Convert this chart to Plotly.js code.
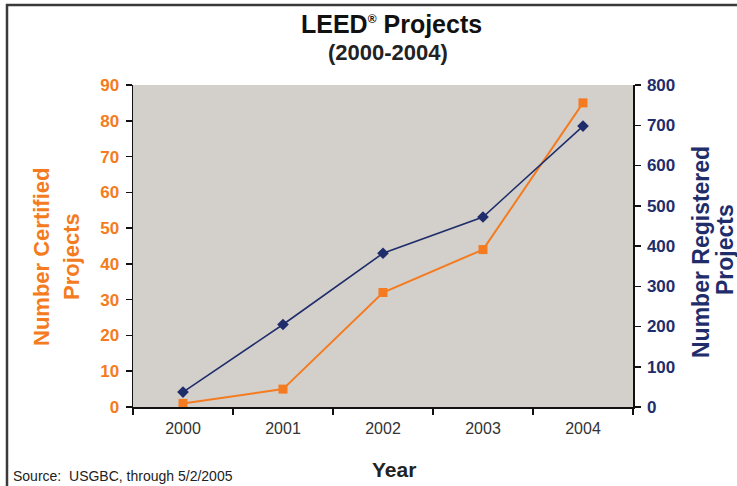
<!DOCTYPE html>
<html>
<head>
<meta charset="utf-8">
<script src="https://cdn.plot.ly/plotly-3.0.1.min.js"></script>
<style>html,body{margin:0;padding:0;background:#fff;}#chart{width:737px;height:486px;}</style>
</head>
<body>
<div id="chart"></div>
<script>
const years = ['2000', '2001', '2002', '2003', '2004'];
const certified = [1, 5, 32, 44, 85];
const registered = [37, 205, 382, 472, 698];
const leftTicks = [0, 10, 20, 30, 40, 50, 60, 70, 80, 90];
const rightTicks = [0, 100, 200, 300, 400, 500, 600, 700, 800];

const ORANGE = '#f47b20';
const NAVY = '#1f2d6b';
const FONT = 'Liberation Sans, Arial, sans-serif';

const traces = [
  {
    x: years, y: certified, type: 'scatter', mode: 'lines+markers', yaxis: 'y',
    line: {color: ORANGE, width: 2}, marker: {symbol: 'square', size: 9, color: ORANGE},
    cliponaxis: false
  },
  {
    x: years, y: registered, type: 'scatter', mode: 'lines+markers', yaxis: 'y2',
    line: {color: NAVY, width: 1.6}, marker: {symbol: 'diamond', size: 9, color: NAVY},
    cliponaxis: false
  }
];

const layout = {
  width: 737, height: 486,
  margin: {l: 133, r: 104, t: 85, b: 79},
  paper_bgcolor: '#ffffff',
  plot_bgcolor: '#d3d0cb',
  showlegend: false,
  font: {family: FONT},
  xaxis: {
    type: 'category', range: [-0.5, 4.5], tickson: 'boundaries',
    ticks: 'outside', ticklen: 6, tickcolor: '#111', tickwidth: 1.5,
    showline: true, linecolor: '#111', linewidth: 1.5, showgrid: false, zeroline: false,
    tickfont: {size: 16, color: '#333', family: FONT}, ticklabelstandoff: 6
  },
  yaxis: {
    range: [0, 90], tickvals: leftTicks, ticks: 'outside', ticklen: 6, tickcolor: '#111', tickwidth: 1.5,
    showline: true, linecolor: '#111', linewidth: 1.5, showgrid: false, zeroline: false,
    tickfont: {size: 17, color: ORANGE, family: FONT, weight: 'bold'}, ticklabelstandoff: 3
  },
  yaxis2: {
    range: [0, 800], tickvals: rightTicks, overlaying: 'y', side: 'right',
    ticks: 'outside', ticklen: 6, tickcolor: '#111', tickwidth: 1.5,
    showline: true, linecolor: '#111', linewidth: 1.5, showgrid: false, zeroline: false,
    tickfont: {size: 17, color: NAVY, family: FONT, weight: 'bold'}, ticklabelstandoff: 3
  },
  shapes: [
    {type: 'rect', xref: 'paper', yref: 'paper', x0: -0.252, x1: 1.4, y0: -0.4, y1: 1.2484,
     line: {color: '#3a3a3a', width: 2.5}, fillcolor: 'rgba(0,0,0,0)', layer: 'below'}
  ],
  annotations: [
    {text: '<b>LEED<sup><span style="font-size:12px">®</span></sup> Projects</b>', xref: 'paper', yref: 'paper', x: (391 - 133) / 500, y: (407 - 24) / 322,
     showarrow: false, font: {size: 25, color: '#111', family: FONT}, xanchor: 'center', yanchor: 'middle'},
    {text: '<b>(2000-2004)</b>', xref: 'paper', yref: 'paper', x: (388 - 133) / 500, y: (407 - 52) / 322,
     showarrow: false, font: {size: 22, color: '#222', family: FONT}, xanchor: 'center', yanchor: 'middle'},
    {text: '<b>Number Certified</b>', xref: 'paper', yref: 'paper', x: (41 - 133) / 500, y: (407 - 257) / 322,
     textangle: -90, showarrow: false, font: {size: 22, color: ORANGE, family: FONT}, xanchor: 'center', yanchor: 'middle'},
    {text: '<b>Projects</b>', xref: 'paper', yref: 'paper', x: (71 - 133) / 500, y: (407 - 257) / 322,
     textangle: -90, showarrow: false, font: {size: 22, color: ORANGE, family: FONT}, xanchor: 'center', yanchor: 'middle'},
    {text: '<b>Number Registered</b>', xref: 'paper', yref: 'paper', x: (701 - 133) / 500, y: (407 - 252) / 322,
     textangle: -90, showarrow: false, font: {size: 23, color: NAVY, family: FONT}, xanchor: 'center', yanchor: 'middle'},
    {text: '<b>Projects</b>', xref: 'paper', yref: 'paper', x: (725 - 133) / 500, y: (407 - 250) / 322,
     textangle: -90, showarrow: false, font: {size: 23, color: NAVY, family: FONT}, xanchor: 'center', yanchor: 'middle'},
    {text: '<b>Year</b>', xref: 'paper', yref: 'paper', x: (394 - 133) / 500, y: (407 - 469) / 322,
     showarrow: false, font: {size: 21, color: '#222', family: FONT}, xanchor: 'center', yanchor: 'middle'},
    {text: 'Source:  USGBC, through 5/2/2005', xref: 'paper', yref: 'paper', x: (11 - 133) / 500, y: (407 - 476) / 322,
     showarrow: false, font: {size: 14, color: '#222', family: FONT}, xanchor: 'left', yanchor: 'middle'}
  ]
};

Plotly.newPlot('chart', traces, layout, {displayModeBar: false, staticPlot: true});
</script>
</body>
</html>
